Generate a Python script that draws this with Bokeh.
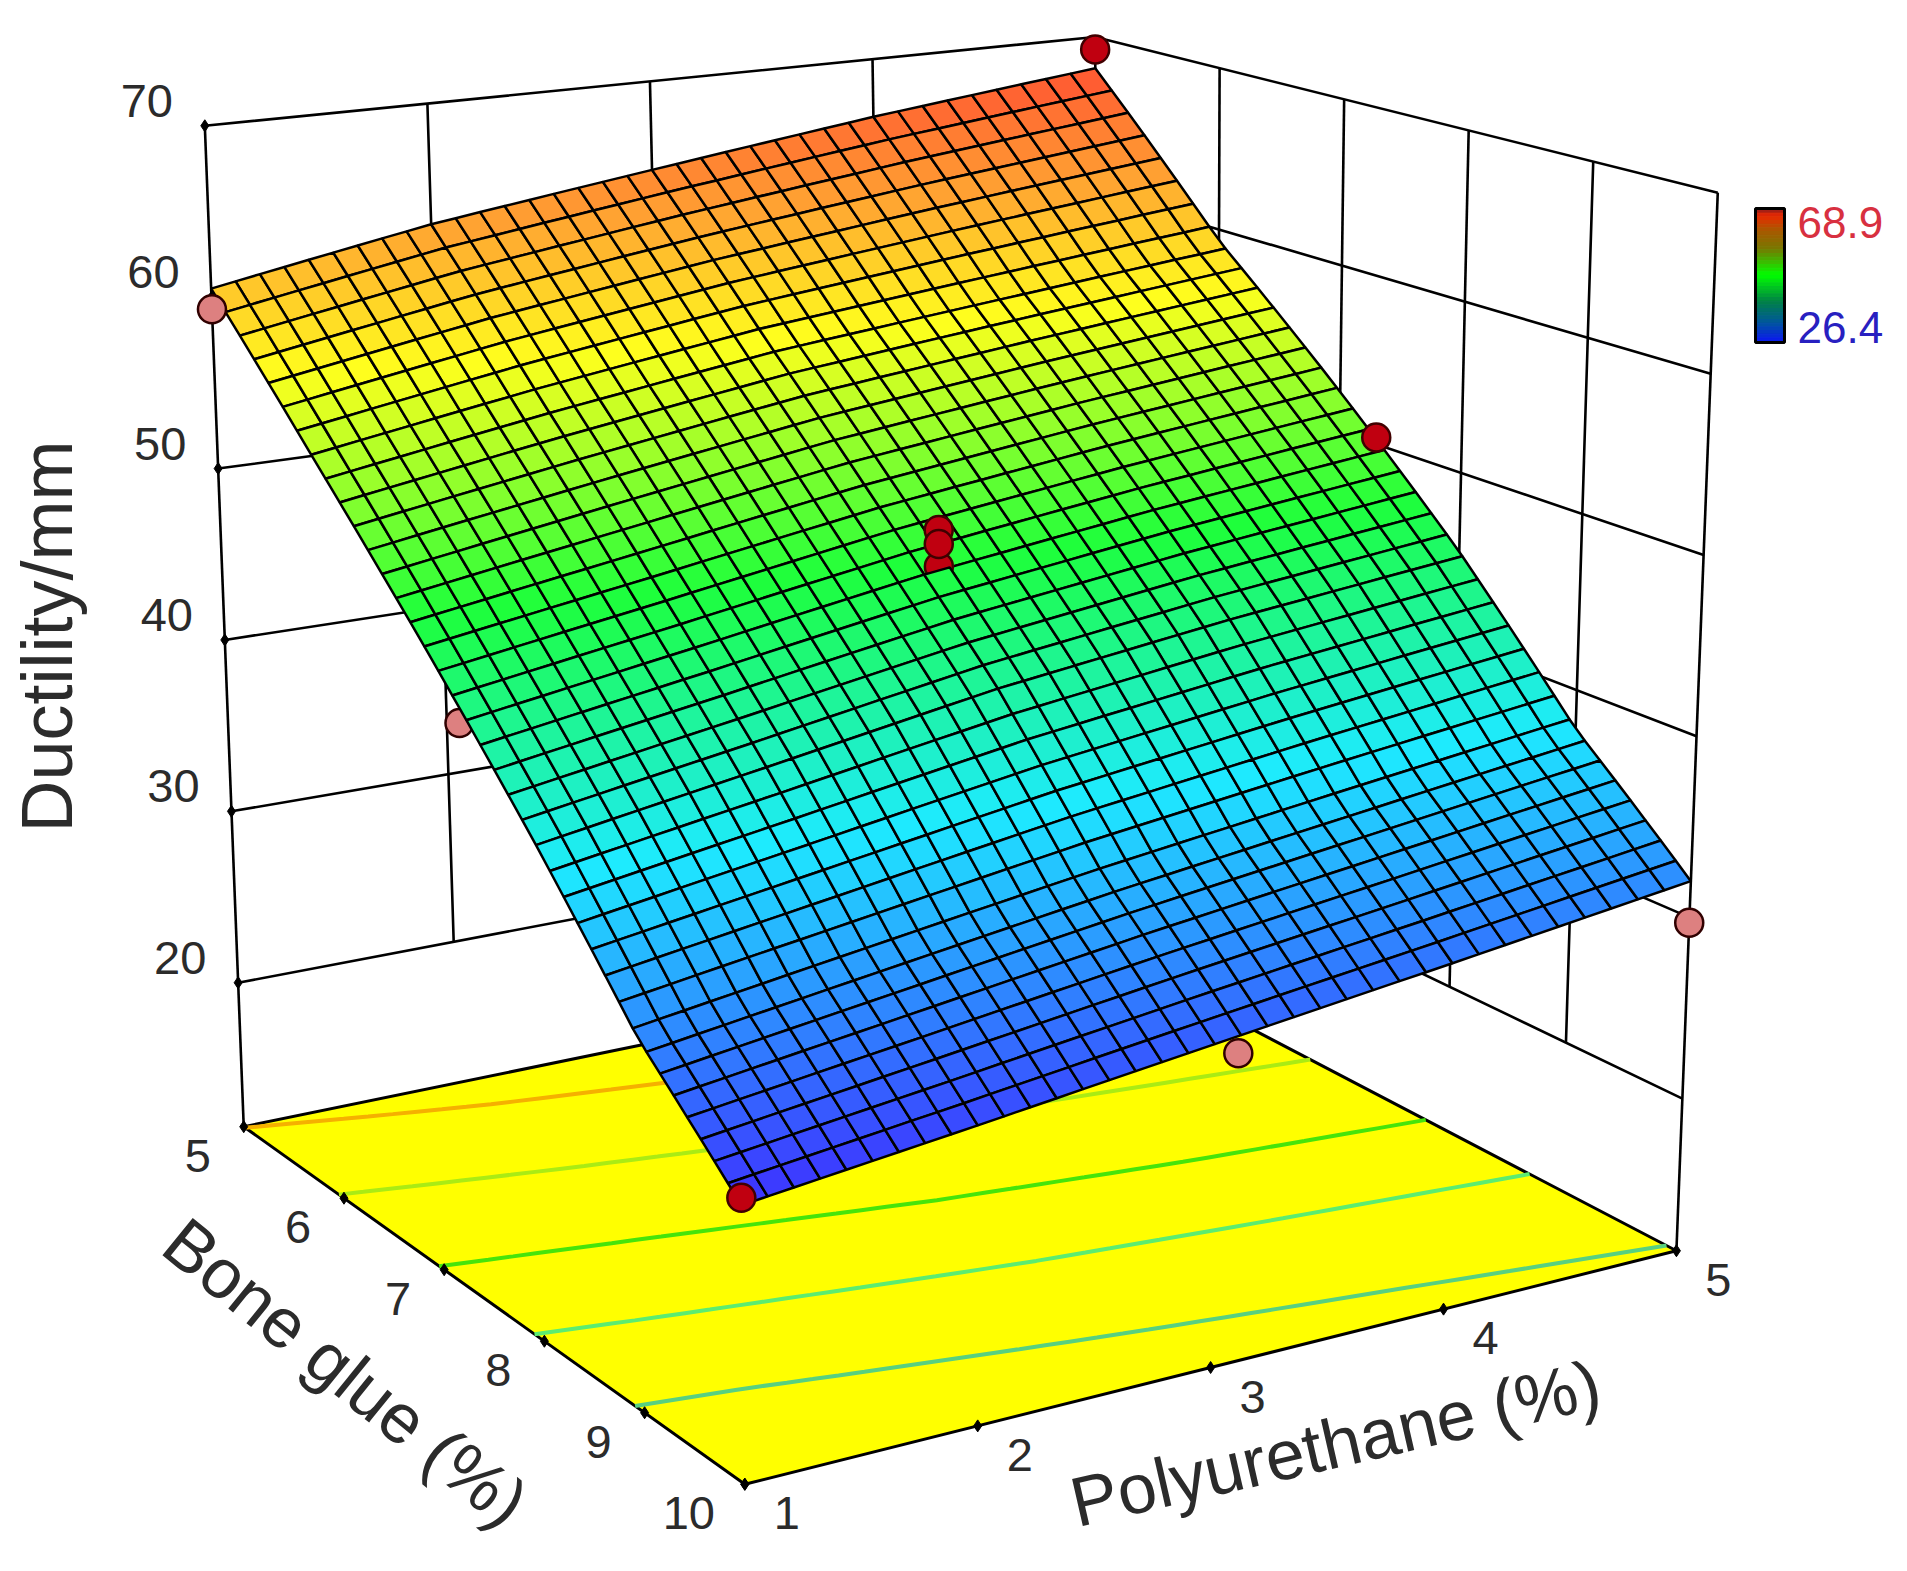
import numpy as np
from bokeh.plotting import figure
from bokeh.models import Range1d
from bokeh.core.properties import value
from bokeh.embed import file_html
from bokeh.resources import INLINE

# ---- data ----
PU_TICKS = [1, 2, 3, 4, 5]
BG_TICKS = [5, 6, 7, 8, 9, 10]
Z_TICKS = [20, 30, 40, 50, 60, 70]
Z_FLOOR = 11.6
Z_TOP = 70
SURFACE_Z = [
    [60.5, 62.8, 64.6, 66.4, 68.0],
    [53.3, 55.2, 56.9, 58.1, 59.3],
    [46.3, 48.0, 49.8, 51.2, 52.4],
    [39.2, 41.0, 42.9, 44.3, 45.4],
    [31.8, 33.4, 35.0, 36.4, 37.8],
    [26.4, 27.7, 29.1, 30.5, 32.0],
]
CONTOUR_LEVELS = [32.5, 39.9, 46.65, 53.66, 60.4]
CONTOUR_COLORS = ["#58d080", "#5cec70", "#46e40a", "#aaeb14", "#f5b000"]
RED_PU = [5, 5, 1, 3, 3]
RED_BG = [5, 7.3, 10, 7.5, 7.5]
RED_Z = [69.2, 50.4, 26.8, 50.2, 49.4]
CENTRE_LOW = (3, 7.5, 48.1)
PINK_PU = [1, 5, 3.1]
PINK_BG = [5, 10, 10]
PINK_Z = [59.3, 29.7, 28.3]
PINK_HIDDEN = (1, 7.3, 43.3)
LEGEND_HI, LEGEND_LO = "68.9", "26.4"

S = 1907 / 1568
# box corners, position in the shrunk reference: floor then top; (PU, BG)
BOX_FLOOR = {(1, 5): (200, 926), (5, 5): (905, 781), (5, 10): (1378, 1028), (1, 10): (612, 1220)}
BOX_TOP = {(1, 5): (168, 103), (5, 5): (900, 30), (5, 10): (1412, 158), (1, 10): (601, 315)}


def proj(pu, bg, z):
    pu, bg, z = np.broadcast_arrays(np.asarray(pu, float), np.asarray(bg, float), np.asarray(z, float))
    a = (pu - 1) / 4
    b = (bg - 5) / 5
    c = (z - Z_FLOOR) / (Z_TOP - Z_FLOOR)

    def bil(box, k):
        return ((1 - a) * (1 - b) * box[(1, 5)][k] + a * (1 - b) * box[(5, 5)][k]
                + a * b * box[(5, 10)][k] + (1 - a) * b * box[(1, 10)][k])
    return (((1 - c) * bil(BOX_FLOOR, 0) + c * bil(BOX_TOP, 0)) * S,
            ((1 - c) * bil(BOX_FLOOR, 1) + c * bil(BOX_TOP, 1)) * S)


Z_ARR = np.array(SURFACE_Z)
BG_A = np.array(BG_TICKS, float)
PU_A = np.array(PU_TICKS, float)


def surf(pu, bg):
    col = np.array([np.interp(pu, PU_A, row) for row in Z_ARR])
    return float(np.interp(bg, BG_A, col))


CMAP_V = [26.4, 38.0, 47.6, 57.0, 62.5, 68.9]
CMAP_R = [62, 30, 30, 255, 255, 255]
CMAP_G = [50, 235, 255, 255, 165, 70]
CMAP_B = [255, 255, 60, 30, 50, 50]


def colour(z):
    return "#%02x%02x%02x" % tuple(int(np.interp(z, CMAP_V, c)) for c in (CMAP_R, CMAP_G, CMAP_B))


p = figure(width=1891, height=1555, output_backend="svg", toolbar_location=None,
           x_range=Range1d(0, 1891), y_range=Range1d(1555, 0), min_border=0)
p.axis.visible = False
p.grid.visible = False
p.outline_line_color = None
p.background_fill_color = "white"

# walls
wx, wy = [], []
for pu in PU_TICKS:
    lo = Z_FLOOR if pu in (1, 5) else Z_TICKS[0]
    u, v = proj([pu, pu], [5, 5], [lo, Z_TOP]); wx.append(list(u)); wy.append(list(v))
for bg in BG_TICKS[1:]:
    lo = Z_FLOOR if bg == 10 else Z_TICKS[0]
    u, v = proj([5, 5], [bg, bg], [lo, Z_TOP]); wx.append(list(u)); wy.append(list(v))
for z in Z_TICKS:
    u, v = proj([1, 5, 5], [5, 5, 10], [z, z, z]); wx.append(list(u)); wy.append(list(v))
p.multi_line(wx, wy, line_color="#000000", line_width=2.6)

# floor
u, v = proj([1, 5, 5, 1], [5, 5, 10, 10], Z_FLOOR)
p.patch(list(u), list(v), fill_color="#ffff00", line_color="#000000", line_width=3)

# contours on the floor
fine_pu = np.linspace(1, 5, 41)
for lev, lc in zip(CONTOUR_LEVELS, CONTOUR_COLORS):
    bgs = []
    for pu in fine_pu:
        col = np.array([np.interp(pu, PU_A, row) for row in Z_ARR])
        bgs.append(np.interp(lev, col[::-1], BG_A[::-1]) if col[-1] <= lev <= col[0] else np.nan)
    u, v = proj(fine_pu, np.array(bgs), Z_FLOOR)
    p.line(u, v, line_color=lc, line_width=4)

# ticks
tu, tv = [], []
for pu in PU_TICKS:
    a, c = proj(pu, 10, Z_FLOOR); tu.append(float(a)); tv.append(float(c))
for bg in BG_TICKS:
    a, c = proj(1, bg, Z_FLOOR); tu.append(float(a)); tv.append(float(c))
for z in Z_TICKS:
    a, c = proj(1, 5, z); tu.append(float(a)); tv.append(float(c))
p.scatter(tu, tv, marker="diamond", size=12, fill_color="black", line_color="black")

# hidden pink point
u, v = proj(*PINK_HIDDEN)
p.scatter([float(u)], [float(v)], size=28, fill_color="#dd8080", line_color="#300000", line_width=2.5)

# surface
N_PU, N_BG = 36, 38
pu_g = np.linspace(1, 5, N_PU + 1)
bg_g = np.linspace(5, 10, N_BG + 1)
zz = np.array([[surf(a, b) for a in pu_g] for b in bg_g])
CUT_KEY = -2
back = dict(xs=[], ys=[], c=[])
front = dict(xs=[], ys=[], c=[])
for i in range(N_BG):
    for j in range(N_PU):
        qp = [pu_g[j], pu_g[j + 1], pu_g[j + 1], pu_g[j]]
        qb = [bg_g[i], bg_g[i], bg_g[i + 1], bg_g[i + 1]]
        qz = [zz[i, j], zz[i, j + 1], zz[i + 1, j + 1], zz[i + 1, j]]
        u, v = proj(qp, qb, qz)
        t = back if (i - N_BG / 2) - (j - N_PU / 2) <= CUT_KEY else front
        t["xs"].append(list(u)); t["ys"].append(list(v)); t["c"].append(colour(np.mean(qz)))
p.patches("xs", "ys", source=back, fill_color="c", line_color="#000000", line_width=2.5)
u, v = proj(*CENTRE_LOW)
p.scatter([float(u)], [float(v)], size=28, fill_color="#c00010", line_color="#400000", line_width=2.5)
p.patches("xs", "ys", source=front, fill_color="c", line_color="#000000", line_width=2.5)

# design points
u, v = proj(RED_PU, RED_BG, RED_Z)
p.scatter(u, v, size=28, fill_color="#c00010", line_color="#400000", line_width=2.5)
u, v = proj(PINK_PU, PINK_BG, PINK_Z)
p.scatter(u, v, size=28, fill_color="#dd8080", line_color="#300000", line_width=2.5)

# tick labels
FONT = value("Liberation Sans")
TXT = "#2b2b2b"
lx, ly, lt = [], [], []
for z in Z_TICKS:
    a, c = proj(1, 5, z); lx.append(float(a) - 58); ly.append(float(c) - 25); lt.append(str(z))
for bg in BG_TICKS:
    a, c = proj(1, bg, Z_FLOOR); lx.append(float(a) - (46 if bg < 10 else 56)); ly.append(float(c) + 29); lt.append(str(bg))
for pu in PU_TICKS:
    a, c = proj(pu, 10, Z_FLOOR); lx.append(float(a) + 42); ly.append(float(c) + 29); lt.append(str(pu))
p.text(lx, ly, lt, text_font=FONT, text_font_size="47px", text_color=TXT, text_align="center", text_baseline="middle")

# axis titles
p.text([46], [636], ["Ductility/mm"], text_font=FONT, text_font_size="72px", text_color=TXT,
       angle=np.pi / 2, text_align="center", text_baseline="middle")
p.text([345], [1372], ["Bone glue (%)"], text_font=FONT, text_font_size="70px", text_color=TXT,
       angle=-0.68, text_align="center", text_baseline="middle")
p.text([1335], [1443], ["Polyurethane (%)"], text_font=FONT, text_font_size="70px", text_color=TXT,
       angle=0.225, text_align="center", text_baseline="middle")

# colour legend
LEG_POS = [0, .05, .15, .3, .5, .7, .85, 1]
LEG_R = [140, 235, 175, 120, 0, 0, 0, 10]
LEG_G = [30, 40, 85, 120, 255, 130, 90, 25]
LEG_B = [30, 0, 0, 0, 0, 70, 150, 240]
n = 36
top, bot = 209, 341
ts = np.linspace(0, 1, n + 1)
for a, b2 in zip(ts[:-1], ts[1:]):
    m = (a + b2) / 2
    c = "#%02x%02x%02x" % tuple(int(np.interp(m, LEG_POS, q)) for q in (LEG_R, LEG_G, LEG_B))
    p.quad(left=[1756], right=[1783], top=[top + a * (bot - top)], bottom=[top + b2 * (bot - top)], fill_color=c, line_color=c)
p.quad(left=[1755], right=[1784], top=[208], bottom=[342], fill_color=None, line_color="black", line_width=3)
p.text([1797], [222], [LEGEND_HI], text_font=FONT, text_font_size="44px", text_color="#d83040", text_baseline="middle")
p.text([1797], [327], [LEGEND_LO], text_font=FONT, text_font_size="44px", text_color="#2820c0", text_baseline="middle")

open("out.html", "w").write(file_html(p, INLINE))
